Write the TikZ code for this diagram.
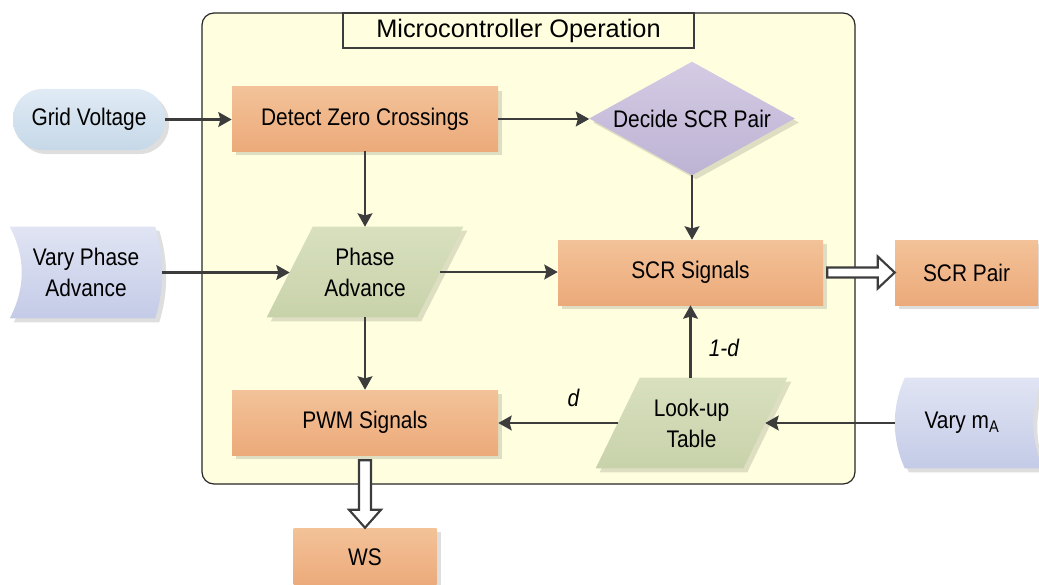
\documentclass[tikz,border=0pt]{standalone}
\usepackage{fontspec}
\setmainfont{Liberation Sans}[FakeStretch=0.87]
\newfontfamily\titlefont{Liberation Sans}
\usetikzlibrary{calc,shadows,arrows.meta}

\definecolor{panel}{RGB}{255,255,224}
\definecolor{edge}{RGB}{60,60,60}
\definecolor{orangeT}{RGB}{243,194,152}
\definecolor{orangeB}{RGB}{236,170,122}
\definecolor{blueT}{RGB}{224,235,245}
\definecolor{blueB}{RGB}{198,216,232}
\definecolor{lavT}{RGB}{224,228,243}
\definecolor{lavB}{RGB}{196,203,231}
\definecolor{purpT}{RGB}{212,203,228}
\definecolor{purpB}{RGB}{189,179,212}
\definecolor{greenT}{RGB}{216,224,190}
\definecolor{greenB}{RGB}{200,210,170}

\pgfdeclarelayer{bg}
\pgfsetlayers{bg,main}

\tikzset{
  sz/.style 2 args={minimum width=#1*0.75pt, minimum height=#2*0.75pt},
  shadowed/.style={drop shadow={shadow xshift=3pt, shadow yshift=-3pt, fill=black, opacity=0.13}},
  process/.style={shadowed, top color=orangeT, bottom color=orangeB, inner sep=0pt, align=center},
  terminal/.style={shadowed, top color=blueT, bottom color=blueB, rounded corners=22pt, inner sep=0pt, align=center},
  label/.style={inner sep=0pt, align=center},
  decision/.style={shadowed, top color=purpT, bottom color=purpB},
  io/.style={shadowed, top color=greenT, bottom color=greenB},
  stored/.style={shadowed, top color=lavT, bottom color=lavB},
  conn/.style={draw=edge, line width=1.9pt, -{Stealth[length=10pt,width=11pt,inset=1.5pt]}},
  hollow/.style={draw=edge, line width=1.6pt, fill=white, line join=miter},
  tag/.style={font=\fontsize{18}{22}\selectfont\itshape, inner sep=0pt}
}

\begin{document}
\begin{tikzpicture}[x=0.75pt, y=-0.75pt, font=\fontsize{18}{23.25}\selectfont]
\useasboundingbox (0,0) rectangle (1039,585);

% controller frame
\begin{pgfonlayer}{bg}
  \draw[fill=panel, draw=black!85, line width=0.9pt, rounded corners=9pt] (202,13) rectangle (855,484);
\end{pgfonlayer}
\node[draw=edge, fill=panel, line width=0.8pt, sz={351}{35}, inner sep=0pt,
      font=\titlefont\fontsize{19}{23}\selectfont] (title) at (518.5,30.5) {Microcontroller Operation};

% blocks
\node[terminal, sz={152}{61}] (grid) at (89,119.5) {Grid Voltage};
\node[process, sz={266}{64}] (det) at (365,119) {Detect Zero Crossings};
\node[label, sz={205}{113}] (dec) at (692,118.5) {Decide SCR Pair};
\node[label, sz={152}{91}] (vpa) at (86,272.5) {Vary Phase\\Advance};
\node[label, sz={196}{90}] (pa) at (365,272) {Phase\\Advance};
\node[process, sz={265}{65}] (scr) at (690.5,272.5) {SCR Signals};
\node[process, sz={143}{65}] (pair) at (966.5,272.5) {SCR Pair};
\node[process, sz={266}{65}] (pwm) at (365,422.5) {PWM Signals};
\node[label, sz={191}{90}] (lut) at (691.5,423) {Look-up\\Table};
\node[label, sz={134}{90}] (vma) at (962,423) {Vary m\textsubscript{A}};
\node[process, sz={143}{58}] (ws) at (365,557) {WS};

% shaped outlines behind the labels
\begin{pgfonlayer}{bg}
  \path[decision] (dec.north) -- (dec.east) -- (dec.south) -- (dec.west) -- cycle;
  \path[io] (pa.south west) -- ($(pa.north west)+(46,0)$) -- (pa.north east)
            -- ($(pa.south east)+(-46,0)$) -- cycle;
  \path[io] (lut.south west) -- ($(lut.north west)+(44,0)$) -- (lut.north east)
            -- ($(lut.south east)+(-44,0)$) -- cycle;
  \path[stored] (vpa.north west) -- ($(vpa.north east)+(-7,0)$)
     .. controls ($(vpa.north east)+(2.3,30)$) and ($(vpa.south east)+(2.3,-30)$) .. ($(vpa.south east)+(-7,0)$)
     -- (vpa.south west)
     .. controls ($(vpa.south west)+(16,-30)$) and ($(vpa.north west)+(16,30)$) .. (vpa.north west) -- cycle;
  \path[stored] ($(vma.north west)+(10,0)$) -- ($(vma.north east)+(14,0)$)
     .. controls ($(vma.north east)+(0.7,30)$) and ($(vma.south east)+(0.7,-30)$) .. ($(vma.south east)+(14,0)$)
     -- ($(vma.south west)+(10,0)$)
     .. controls ($(vma.south west)+(-3.3,-30)$) and ($(vma.north west)+(-3.3,30)$) .. ($(vma.north west)+(10,0)$) -- cycle;
\end{pgfonlayer}

% connection points on the slanted sides
\coordinate (pa-in) at ($(pa.west)+(23,0)$);
\coordinate (pa-out) at ($(pa.east)+(-23,0)$);
\coordinate (lut-in) at ($(lut.east)+(-22,0)$);
\coordinate (lut-out) at ($(lut.west)+(22,0)$);

% connectors
\draw[conn] (grid.east) -- (grid.east -| det.west);
\draw[conn] (det.east) -- (det.east -| dec.west);
\draw[conn] (det.south) -- (pa.north);
\draw[conn] (dec.south) -- (dec.south |- scr.north);
\draw[conn] (vpa.east) -- (vpa.east -| pa-in);
\draw[conn] (pa-out) -- (pa-out -| scr.west);
\draw[conn] (pa.south) -- (pa.south |- pwm.north);
\draw[conn] (lut-out) -- (lut-out -| pwm.east) node[tag, pos=0.37, yshift=19pt] (dlab) {d};
\draw[conn] (lut.north -| scr.south) -- (scr.south) node[tag, pos=0.41, xshift=25pt] (ndlab) {1-d};
\draw[conn] (vma.west) -- (vma.west -| lut-in);

% hollow transfer arrows
\draw[hollow] ($(scr.east)+(4,-5)$) -- ($(pair.west)+(-17,-5)$) -- ($(pair.west)+(-17,-16)$)
   -- (pair.west) -- ($(pair.west)+(-17,16)$) -- ($(pair.west)+(-17,5)$) -- ($(scr.east)+(4,5)$) -- cycle;
\draw[hollow] ($(pwm.south)+(-6,5)$) -- ($(ws.north)+(-6,-18)$) -- ($(ws.north)+(-16,-18)$)
   -- (ws.north) -- ($(ws.north)+(16,-18)$) -- ($(ws.north)+(6,-18)$) -- ($(pwm.south)+(6,5)$) -- cycle;
\end{tikzpicture}
\end{document}
